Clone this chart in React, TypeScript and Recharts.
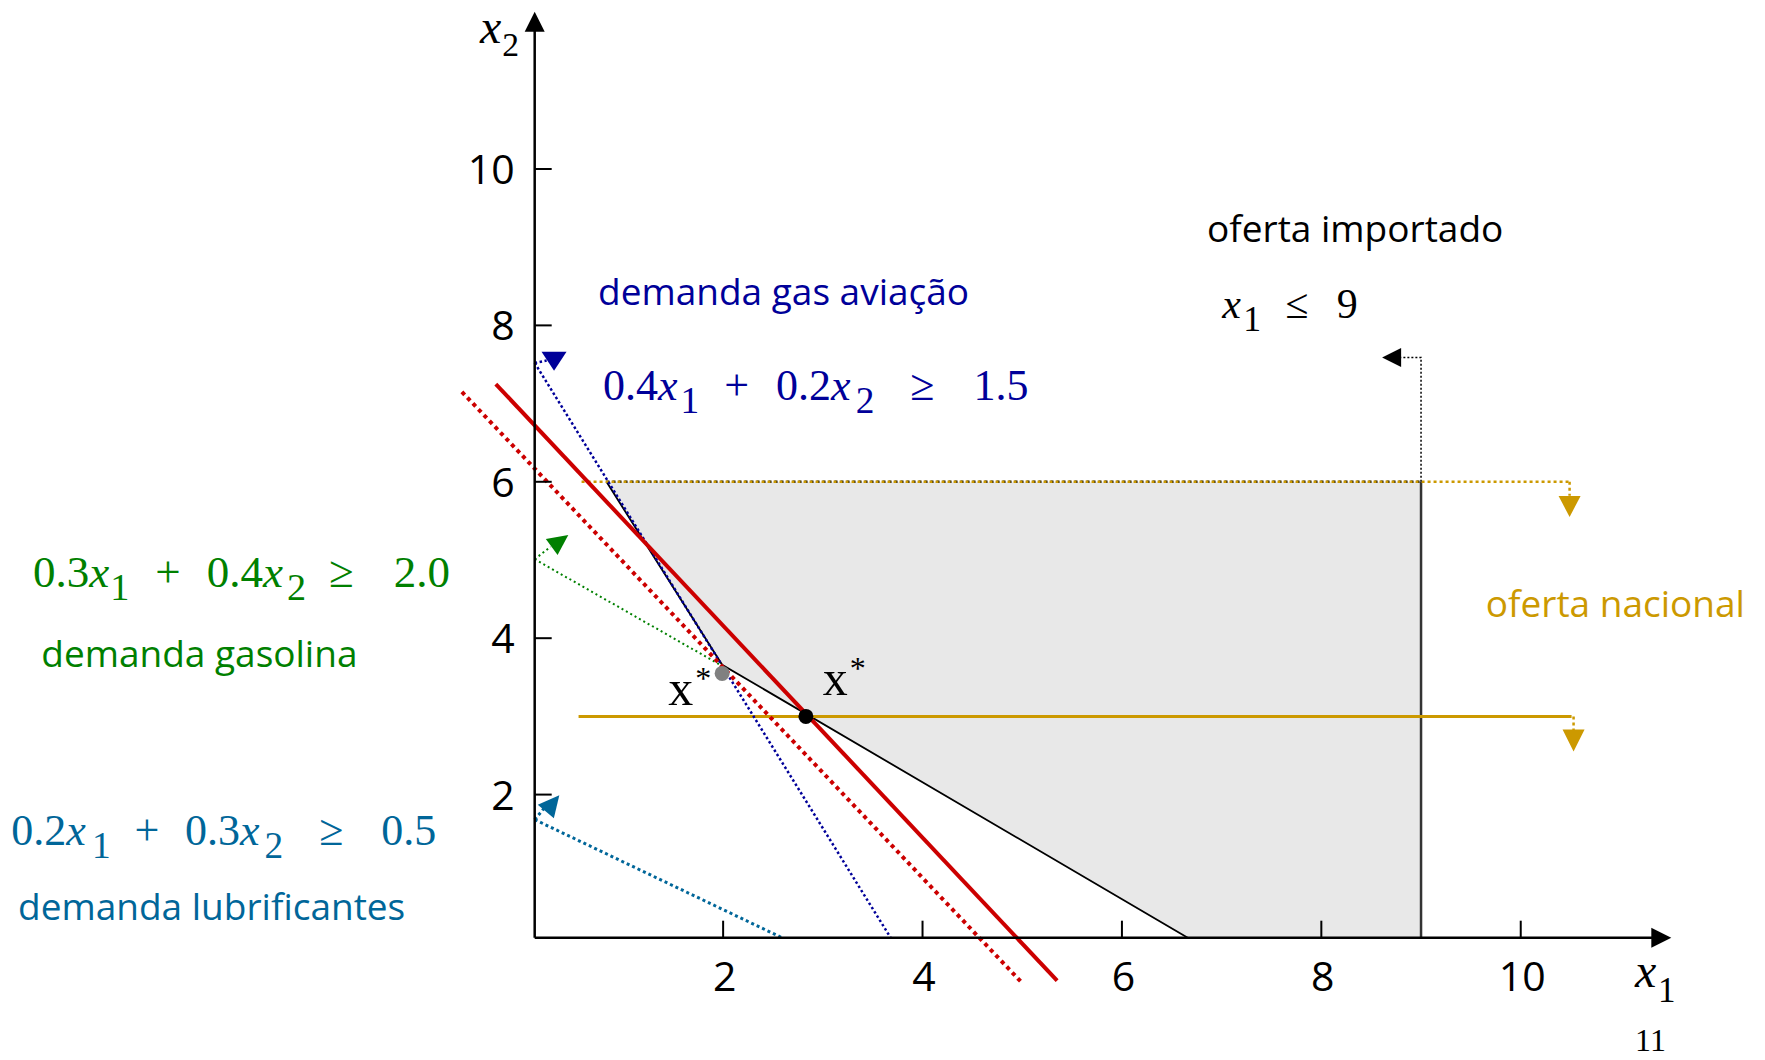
import React from 'react';
import { ComposedChart, XAxis, YAxis, Line, Area, ReferenceDot } from 'recharts';

// ---------- frame (data units of the x1 / x2 plane) ----------
const W = 1765;
const H = 1060;
const X_DOMAIN: [number, number] = [-5.253, 12.45];
const Y_DOMAIN: [number, number] = [-1.394, 12.161];

const AXIS_AT_X1 = 0.11; // where the x2 axis stands on the x1 scale
const AXIS_AT_X2 = 0.17; // where the x1 axis stands on the x2 scale
const X_AXIS_END = 11.45;
const Y_AXIS_END = 11.93;

const xTicks = [2, 4, 6, 8, 10];
const xTickLabels = ['2', '4', '6', '8', '10'];
const yTicks = [2, 4, 6, 8, 10];
const yTickLabels = ['2', '4', '6', '8', '10'];

// ---------- feasible region ----------
const feasibleX = [0.83, 1.99, 6.66, 9];
const feasibleLow = [6, 3.66, 0.17, 0.17];
const feasibleHigh = [6, 6, 6, 6];

const boundaryX = [0.83, 1.99, 6.66];
const boundaryY = [6, 3.66, 0.17];
const topEdgeX = [0.83, 9];
const topEdgeY = [6, 6];

// ---------- constraints ----------
const importadoX = [9, 9];
const importadoY = [0.17, 6];
const importadoArrowX = [9, 9, 8.8];
const importadoArrowY = [6, 7.59, 7.59];

const aviacaoX = [0.11, 3.68];
const aviacaoY = [7.52, 0.17];
const aviacaoArrowX = [0.11, 0.23];
const aviacaoArrowY = [7.52, 7.55];

const gasolinaX = [0.11, 1.97];
const gasolinaY = [5.01, 3.66];
const gasolinaArrowX = [0.11, 0.27];
const gasolinaArrowY = [5.01, 5.17];

const lubrifX = [0.11, 2.59];
const lubrifY = [1.68, 0.17];
const lubrifArrowX = [0.11, 0.22];
const lubrifArrowY = [1.68, 1.85];

const nacionalTopX = [0.55, 10.49];
const nacionalTopY = [6, 6];
const nacionalTopArrowX = [10.49, 10.49];
const nacionalTopArrowY = [6, 5.82];

const nacionalLowX = [0.55, 10.51];
const nacionalLowY = [3, 3];
const nacionalLowArrowX = [10.53, 10.53];
const nacionalLowArrowY = [3, 2.8];

// ---------- objective lines ----------
const objectiveX = [-0.28, 5.35];
const objectiveY = [7.25, -0.38];
const objectiveDotX = [-0.62, 5.0];
const objectiveDotY = [7.15, -0.41];

// ---------- optimum points ----------
const optGreyX = 1.99;
const optGreyY = 3.55;
const optBlackX = 2.83;
const optBlackY = 3.0;

// ---------- arrow heads (apex in data units) ----------
const arrowX = [0.11, 11.51, 0.304, 0.447, 0.357, 8.61, 10.49, 10.53];
const arrowY = [12.01, 0.17, 7.42, 5.32, 1.99, 7.59, 5.55, 2.55];
const arrowColor = ['#000', '#000', '#000099', '#008000', '#006699', '#000', '#cc9900', '#cc9900'];
const arrowAngle = [-90, 0, 90, -36, -50, 180, 90, 90];
const arrowLen = [20, 20, 19, 20.5, 21, 19, 21, 22];
const arrowWid = [20, 20, 25, 20, 21, 19, 22, 22];

// ---------- text anchors ----------
const sansText = ['demanda gas aviação', 'demanda gasolina', 'demanda lubrificantes', 'oferta importado', 'oferta nacional'];
const sansX = [0.745, -4.839, -5.072, 6.854, 9.65];
const sansY = [8.261, 3.636, 0.396, 9.07, 4.275];
const sansColor = ['#000099', '#008000', '#006699', '#000', '#cc9900'];

type Tok = { t: string; it?: boolean; sub?: boolean; dx?: number };
const linEq = (a: string, b: string, op: string, rhs: string, g: number[]): Tok[] => [
  { t: a },
  { t: 'x', it: true },
  { t: '1', sub: true, dx: g[0] },
  { t: '+', dx: g[1] },
  { t: b, dx: g[2] },
  { t: 'x', it: true },
  { t: '2', sub: true, dx: g[3] },
  { t: op, dx: g[4] },
  { t: rhs, dx: g[5] },
];
const eqTokens: Tok[][] = [
  linEq('0.4', '0.2', '≥', '1.5', [3, 25, 27, 5, 36, 39]),
  linEq('0.3', '0.4', '≥', '2.0', [1, 26, 26, 4, 23, 40]),
  linEq('0.2', '0.3', '≥', '0.5', [6, 24, 25.5, 5, 36, 38]),
  [{ t: 'x', it: true }, { t: '1', sub: true, dx: 2.5 }, { t: '≤', dx: 24 }, { t: '9', dx: 28.5 }],
];
const eqX = [0.7955, -4.922, -5.139, 7.005];
const eqY = [7.046, 4.659, 1.3555, 8.091];
const eqColor = ['#000099', '#008000', '#006699', '#000'];
const eqSize = [44, 45, 44, 42];

const pts = (xs: number[], ys: number[]) => xs.map((x, i) => ({ x, y: ys[i] }));
const feasibleData = feasibleX.map((x, i) => ({ x, r: [feasibleLow[i], feasibleHigh[i]] }));

const SERIF = "'Liberation Serif', 'Times New Roman', serif";
const SANS = "'Open Sans', 'Noto Sans', sans-serif";

function MathText({ x, y, tokens, size, color, subScale = 0.85, subDy = 13 }: any) {
  let down = false;
  const spans = (tokens as Tok[]).map((tk, i) => {
    let dy = 0;
    if (tk.sub && !down) { dy = subDy; down = true; }
    else if (!tk.sub && down) { dy = -subDy; down = false; }
    return (
      <tspan key={i} dx={tk.dx ?? 0} dy={dy} fontStyle={tk.it ? 'italic' : 'normal'} fontSize={tk.sub ? size * subScale : size}>
        {tk.t}
      </tspan>
    );
  });
  return (
    <text x={x} y={y} fill={color} fontFamily={SERIF} fontSize={size}>
      {spans}
    </text>
  );
}

const triShape = (color: string, angle: number, len: number, wid: number) => (p: any) => {
  const { cx, cy } = p;
  const a = (angle * Math.PI) / 180;
  const ux = Math.cos(a);
  const uy = Math.sin(a);
  const bx = cx - len * ux;
  const by = cy - len * uy;
  const px = (-uy * wid) / 2;
  const py = (ux * wid) / 2;
  return <path d={`M${cx},${cy}L${bx + px},${by + py}L${bx - px},${by - py}Z`} fill={color} />;
};

const lineCommon = { dot: false, activeDot: false, isAnimationActive: false, type: 'linear' as const, legendType: 'none' as const, dataKey: 'y' };

export default function App() {
  return (
    <div style={{ position: 'absolute', left: 0, top: 0, width: W, height: H, background: '#fff' }}>
      <ComposedChart width={W} height={H} margin={{ top: 0, right: 0, bottom: 0, left: 0 }}>
        <XAxis type="number" dataKey="x" domain={X_DOMAIN} allowDataOverflow hide />
        <YAxis type="number" domain={Y_DOMAIN} allowDataOverflow hide />

        <Area data={feasibleData} dataKey="r" type="linear" fill="#e8e8e8" fillOpacity={1} stroke="none" isAnimationActive={false} dot={false} activeDot={false} />

        <Line {...lineCommon} data={pts(boundaryX, boundaryY)} stroke="#000" strokeWidth={1.8} />
        <Line {...lineCommon} data={pts(importadoX, importadoY)} stroke="#333" strokeWidth={2.5} />
        <Line {...lineCommon} data={pts(topEdgeX, topEdgeY)} stroke="#000" strokeWidth={2.5} strokeDasharray="3 3" />
        <Line {...lineCommon} data={pts(nacionalTopX, nacionalTopY)} stroke="#cc9900" strokeWidth={2.5} strokeDasharray="3 3" strokeDashoffset={3} />
        <Line {...lineCommon} data={pts(nacionalTopArrowX, nacionalTopArrowY)} stroke="#cc9900" strokeWidth={2.5} strokeDasharray="3 3" />
        <Line {...lineCommon} data={pts(nacionalLowX, nacionalLowY)} stroke="#cc9900" strokeWidth={3} />
        <Line {...lineCommon} data={pts(nacionalLowArrowX, nacionalLowArrowY)} stroke="#cc9900" strokeWidth={2.5} strokeDasharray="3 3" />

        <Line {...lineCommon} data={pts(lubrifX, lubrifY)} stroke="#006699" strokeWidth={3} strokeDasharray="3 3" />
        <Line {...lineCommon} data={pts(lubrifArrowX, lubrifArrowY)} stroke="#006699" strokeWidth={3} strokeDasharray="3 3" />
        <Line {...lineCommon} data={pts(gasolinaX, gasolinaY)} stroke="#008000" strokeWidth={2} strokeDasharray="2 3" />
        <Line {...lineCommon} data={pts(gasolinaArrowX, gasolinaArrowY)} stroke="#008000" strokeWidth={2} strokeDasharray="2 3" />
        <Line {...lineCommon} data={pts(aviacaoX, aviacaoY)} stroke="#000099" strokeWidth={2.5} strokeDasharray="2.5 2.5" />
        <Line {...lineCommon} data={pts(aviacaoArrowX, aviacaoArrowY)} stroke="#000099" strokeWidth={2.5} strokeDasharray="2.5 2.5" />
        <Line {...lineCommon} data={pts(importadoArrowX, importadoArrowY)} stroke="#000" strokeWidth={1.5} strokeDasharray="2 2" />

        <Line {...lineCommon} data={pts(objectiveDotX, objectiveDotY)} stroke="#cc0000" strokeWidth={4} strokeDasharray="4 4" />
        <Line {...lineCommon} data={pts(objectiveX, objectiveY)} stroke="#cc0000" strokeWidth={4} />

        <Line {...lineCommon} data={pts([AXIS_AT_X1, X_AXIS_END], [AXIS_AT_X2, AXIS_AT_X2])} stroke="#000" strokeWidth={2.5} />
        <Line {...lineCommon} data={pts([AXIS_AT_X1, AXIS_AT_X1], [AXIS_AT_X2, Y_AXIS_END])} stroke="#000" strokeWidth={2.5} />

        {xTicks.map((t, i) => (
          <ReferenceDot
            key={`xt${i}`}
            x={t}
            y={AXIS_AT_X2}
            shape={(p: any) => (
              <g>
                <line x1={p.cx} y1={p.cy} x2={p.cx} y2={p.cy - 17} stroke="#000" strokeWidth={2} />
                <text x={p.cx + 1.5} y={p.cy + 53} textAnchor="middle" fontFamily={SANS} fontSize={41} fill="#000">
                  {xTickLabels[i]}
                </text>
              </g>
            )}
          />
        ))}
        {yTicks.map((t, i) => (
          <ReferenceDot
            key={`yt${i}`}
            x={AXIS_AT_X1}
            y={t}
            shape={(p: any) => (
              <g>
                <line x1={p.cx} y1={p.cy} x2={p.cx + 17} y2={p.cy} stroke="#000" strokeWidth={2} />
                <text x={p.cx - 20} y={p.cy + 15} textAnchor="end" fontFamily={SANS} fontSize={41} fill="#000">
                  {yTickLabels[i]}
                </text>
              </g>
            )}
          />
        ))}

        {arrowX.map((x, i) => (
          <ReferenceDot key={`ar${i}`} x={x} y={arrowY[i]} shape={triShape(arrowColor[i], arrowAngle[i], arrowLen[i], arrowWid[i])} />
        ))}

        <ReferenceDot x={optGreyX} y={optGreyY} r={7.5} fill="#808080" stroke="none" />
        <ReferenceDot x={optBlackX} y={optBlackY} r={7.5} fill="#000" stroke="none" />

        <ReferenceDot
          x={1.449}
          y={3.146}
          shape={(p: any) => (
            <text x={p.cx} y={p.cy} fontFamily={SERIF} fontSize={50} fill="#000">
              x<tspan dx={2} dy={-16} fontSize={32}>*</tspan>
            </text>
          )}
        />
        <ReferenceDot
          x={3.0}
          y={3.274}
          shape={(p: any) => (
            <text x={p.cx} y={p.cy} fontFamily={SERIF} fontSize={50} fill="#000">
              x<tspan dx={2} dy={-16} fontSize={32}>*</tspan>
            </text>
          )}
        />

        {sansText.map((s, i) => (
          <ReferenceDot
            key={`st${i}`}
            x={sansX[i]}
            y={sansY[i]}
            shape={(p: any) => (
              <text x={p.cx} y={p.cy} fontFamily={SANS} fontSize={37} fill={sansColor[i]}>
                {s}
              </text>
            )}
          />
        ))}

        {eqTokens.map((tk, i) => (
          <ReferenceDot
            key={`eq${i}`}
            x={eqX[i]}
            y={eqY[i]}
            shape={(p: any) => <MathText x={p.cx} y={p.cy} tokens={tk} size={eqSize[i]} color={eqColor[i]} />}
          />
        ))}

        <ReferenceDot
          x={-0.4383}
          y={11.607}
          shape={(p: any) => (
            <MathText x={p.cx} y={p.cy} tokens={[{ t: 'x', it: true }, { t: '2', sub: true, dx: 1 }]} size={48} subScale={0.7} subDy={13} color="#000" />
          )}
        />
        <ReferenceDot
          x={11.147}
          y={-0.4565}
          shape={(p: any) => (
            <MathText x={p.cx} y={p.cy} tokens={[{ t: 'x', it: true }, { t: '1', sub: true, dx: 1.5 }]} size={48} subScale={0.73} subDy={15} color="#000" />
          )}
        />
        <ReferenceDot
          x={11.147}
          y={-1.28}
          shape={(p: any) => (
            <text x={p.cx} y={p.cy} fontFamily={SERIF} fontSize={32} fill="#000">
              11
            </text>
          )}
        />
      </ComposedChart>
    </div>
  );
}
